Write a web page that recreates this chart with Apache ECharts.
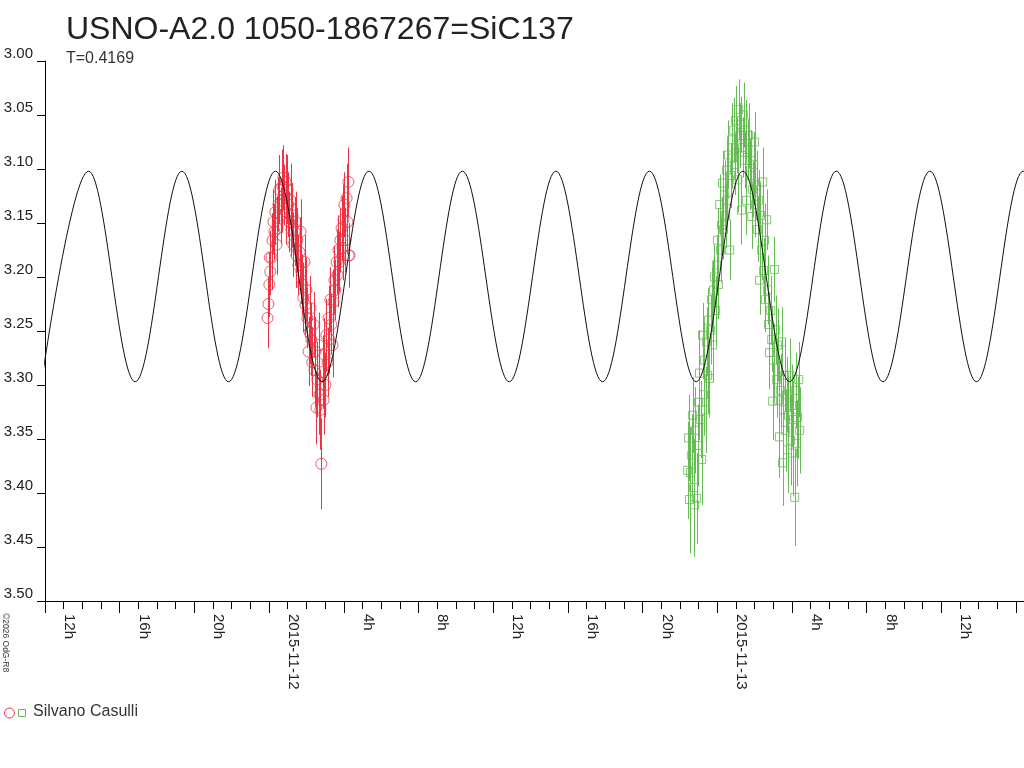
<!DOCTYPE html>
<html lang="en">
<head>
    <meta charset="UTF-8">
    <title>USNO-A2.0 1050-1867267=SiC137</title>
    <script src="https://cdn.jsdelivr.net/npm/echarts@6/dist/echarts.min.js"></script>
    <style>
        html, body { margin: 0; padding: 0; background: #fff; }
        #chart { width: 1024px; height: 768px; }
    </style>
</head>
<body>
    <div id="chart"></div>
    <script>
        // x values are hours since 2015-11-11 00:00
        const xMin = 11;
        const xMax = 63.43;
        const yTicks = [3.00, 3.05, 3.10, 3.15, 3.20, 3.25, 3.30, 3.35, 3.40, 3.45, 3.50];
        const dateLabels = { 24: '2015-11-12', 48: '2015-11-13' };

        // model curve (T=0.4169): extrema
        const curveHours = [10.82, 13.33, 15.83, 18.33, 20.83, 23.34, 25.84, 28.35, 30.85, 33.35, 35.86, 38.36,
            40.86, 43.37, 45.87, 48.37, 50.88, 53.38, 55.88, 58.39, 60.89, 63.39, 65.90];
        const curveMags = [3.297, 3.102, 3.297, 3.102, 3.297, 3.102, 3.297, 3.102, 3.297, 3.102, 3.297, 3.102,
            3.297, 3.102, 3.297, 3.102, 3.297, 3.102, 3.297, 3.102, 3.297, 3.102, 3.297];

        // night 1 (red circles): minutes from 2015-11-12 00:00
        const redMinutes = [-65, -62, -59, -58, -56, -52, -49, -46, -43, -40,
            -36, -33, -30, -27, -23, -20, -17, -14, -11, -7,
            -4, -1, 2, 5, 9, 12, 15, 18, 22, 25,
            28, 31, 34, 38, 41, 44, 47, 50, 54, 57,
            60, 63, 67, 70, 73, 76, 79, 83, 86, 89,
            92, 95, 99, 102, 105, 108, 112, 115, 118, 121,
            124, 128, 131, 134, 137, 140, 144, 147, 150, 153,
            157, 160, 163, 166, 169, 173, 176, 179, 182, 185,
            189, 192, 195, 196, 198];
        const redMags = [3.238, 3.225, 3.207, 3.182, 3.195, 3.182, 3.166, 3.149, 3.158, 3.140,
            3.170, 3.155, 3.133, 3.119, 3.143, 3.129, 3.116, 3.108, 3.124, 3.112,
            3.140, 3.119, 3.133, 3.149, 3.129, 3.156, 3.143, 3.170, 3.158, 3.149,
            3.180, 3.166, 3.189, 3.177, 3.158, 3.195, 3.207, 3.219, 3.186, 3.226,
            3.212, 3.238, 3.269, 3.251, 3.229, 3.258, 3.279, 3.244, 3.286, 3.269,
            3.321, 3.295, 3.263, 3.309, 3.323, 3.373, 3.288, 3.314, 3.272, 3.300,
            3.254, 3.279, 3.238, 3.258, 3.221, 3.244, 3.263, 3.223, 3.203, 3.212,
            3.186, 3.198, 3.175, 3.186, 3.166, 3.155, 3.173, 3.147, 3.133, 3.166,
            3.127, 3.149, 3.112, 3.180, 3.180];
        const redErrs = [0.028, 0.025, 0.030, 0.025, 0.022, 0.030, 0.025, 0.030, 0.026, 0.030,
            0.028, 0.030, 0.025, 0.032, 0.026, 0.030, 0.034, 0.030, 0.028, 0.026,
            0.030, 0.032, 0.030, 0.028, 0.034, 0.025, 0.030, 0.030, 0.032, 0.028,
            0.030, 0.030, 0.028, 0.032, 0.030, 0.030, 0.028, 0.032, 0.025, 0.030,
            0.030, 0.028, 0.032, 0.030, 0.030, 0.034, 0.032, 0.030, 0.034, 0.032,
            0.034, 0.035, 0.030, 0.037, 0.037, 0.042, 0.034, 0.032, 0.034, 0.030,
            0.034, 0.032, 0.030, 0.032, 0.030, 0.028, 0.030, 0.030, 0.032, 0.028,
            0.030, 0.030, 0.032, 0.028, 0.030, 0.030, 0.030, 0.032, 0.030, 0.030,
            0.032, 0.030, 0.032, 0.030, 0.028];

        // night 2 (green squares): minutes from 2015-11-13 00:00
        const greenMinutes = [-155, -152, -149, -146, -142, -139, -136, -133, -130, -126,
            -123, -120, -117, -113, -110, -107, -104, -101, -97, -94,
            -91, -88, -85, -81, -78, -75, -72, -69, -65, -62,
            -59, -56, -52, -49, -46, -43, -40, -36, -33, -30,
            -27, -24, -20, -17, -14, -11, -7, -4, -1, 2,
            6, 9, 12, 15, 18, 22, 25, 28, 31, 34,
            38, 41, 44, 47, 51, 54, 57, 60, 63, 67,
            70, 73, 76, 79, 83, 86, 89, 92, 95, 99,
            102, 105, 108, 112, 115, 118, 121, 124, 128, 131,
            134, 137, 140, 144, 147, 150, 153, 157, 160, 163,
            166, 169, 173, 176, 179, 182, 185, 189, 192, 195,
            198, 202, 205];
        const greenMags = [3.379, 3.349, 3.406, 3.381, 3.365, 3.328, 3.395, 3.411, 3.342, 3.405,
            3.356, 3.316, 3.289, 3.332, 3.369, 3.254, 3.309, 3.277, 3.323, 3.260,
            3.291, 3.240, 3.294, 3.249, 3.221, 3.263, 3.212, 3.200, 3.231, 3.189,
            3.166, 3.207, 3.133, 3.175, 3.152, 3.113, 3.156, 3.124, 3.143, 3.101,
            3.129, 3.087, 3.175, 3.106, 3.073, 3.090, 3.064, 3.096, 3.055, 3.078,
            3.110, 3.045, 3.069, 3.059, 3.138, 3.080, 3.050, 3.092, 3.064, 3.129,
            3.082, 3.069, 3.106, 3.092, 3.144, 3.119, 3.096, 3.075, 3.133, 3.115,
            3.156, 3.129, 3.203, 3.143, 3.175, 3.112, 3.194, 3.166, 3.221, 3.147,
            3.212, 3.244, 3.270, 3.231, 3.258, 3.315, 3.277, 3.193, 3.249, 3.295,
            3.263, 3.314, 3.348, 3.305, 3.260, 3.372, 3.323, 3.291, 3.342, 3.309,
            3.360, 3.328, 3.291, 3.351, 3.319, 3.363, 3.332, 3.404, 3.305, 3.354,
            3.330, 3.295, 3.342];
        const greenErrs = [0.045, 0.040, 0.050, 0.042, 0.038, 0.035, 0.045, 0.048, 0.040, 0.042,
            0.038, 0.035, 0.040, 0.036, 0.042, 0.030, 0.038, 0.035, 0.040, 0.032,
            0.035, 0.030, 0.036, 0.032, 0.030, 0.034, 0.028, 0.030, 0.032, 0.028,
            0.030, 0.032, 0.028, 0.030, 0.026, 0.030, 0.028, 0.032, 0.030, 0.028,
            0.030, 0.032, 0.028, 0.030, 0.034, 0.028, 0.030, 0.028, 0.032, 0.026,
            0.030, 0.028, 0.030, 0.026, 0.032, 0.028, 0.030, 0.026, 0.028, 0.032,
            0.028, 0.030, 0.032, 0.028, 0.030, 0.026, 0.030, 0.028, 0.030, 0.032,
            0.030, 0.028, 0.032, 0.030, 0.028, 0.032, 0.030, 0.034, 0.030, 0.028,
            0.032, 0.030, 0.034, 0.032, 0.030, 0.036, 0.034, 0.030, 0.032, 0.035,
            0.034, 0.036, 0.038, 0.034, 0.032, 0.040, 0.036, 0.034, 0.038, 0.035,
            0.040, 0.036, 0.034, 0.042, 0.038, 0.040, 0.036, 0.045, 0.035, 0.040,
            0.038, 0.035, 0.040];

        const RED = '#ee3344';
        const GREEN = '#66bb55';
        const FONT = '"Liberation Sans", Arial, sans-serif';

        function points(minutes, base, mags) {
            return minutes.map((m, i) => [base + m / 60, mags[i]]);
        }
        function bars(minutes, base, mags, errs) {
            return minutes.map((m, i) => [base + m / 60, mags[i] - errs[i], mags[i] + errs[i]]);
        }
        function errorBarItem(color) {
            return function (params, api) {
                const p1 = api.coord([api.value(0), api.value(1)]);
                const p2 = api.coord([api.value(0), api.value(2)]);
                const x = Math.round(p1[0]) + 0.5;
                return {
                    type: 'line',
                    shape: { x1: x, y1: p1[1], x2: x, y2: p2[1] },
                    style: { stroke: color, lineWidth: 1 }
                };
            };
        }
        function hourLabel(v) {
            const h = Math.round(v);
            if (dateLabels[h]) return dateLabels[h];
            if (h % 4 !== 0) return '';
            return (h % 24) + 'h';
        }

        let myChart = echarts.init(document.getElementById('chart'));

        let option = {
            animation: false,
            backgroundColor: '#fff',
            title: {
                text: 'USNO-A2.0 1050-1867267=SiC137',
                subtext: 'T=0.4169',
                left: 61,
                top: 9,
                itemGap: 5,
                textStyle: { fontFamily: FONT, fontSize: 32, fontWeight: 'normal', color: '#222' },
                subtextStyle: { fontFamily: FONT, fontSize: 16, color: '#333' }
            },
            grid: { left: 45, top: 61, right: 0, bottom: 167 },
            xAxis: [{
                // hourly ticks + labels every 4 hours
                type: 'value',
                min: xMin,
                max: xMax,
                interval: 1,
                axisLine: { lineStyle: { color: '#000', width: 1 } },
                axisTick: { length: 8, lineStyle: { color: '#000' } },
                axisLabel: {
                    rotate: -90,
                    margin: 13,
                    verticalAlign: 'bottom',
                    lineHeight: 11,
                    fontFamily: FONT,
                    fontSize: 15,
                    color: '#222',
                    interval: 0,
                    showMinLabel: false,
                    showMaxLabel: false,
                    formatter: hourLabel
                },
                splitLine: { show: false }
            }, {
                // longer ticks at the labelled hours
                type: 'value',
                position: 'bottom',
                min: xMin,
                max: xMax,
                interval: 4,
                axisLine: { show: false },
                axisTick: { length: 12, lineStyle: { color: '#000' } },
                axisLabel: { show: false },
                splitLine: { show: false }
            }],
            yAxis: {
                type: 'value',
                inverse: true,
                min: yTicks[0],
                max: yTicks[yTicks.length - 1],
                interval: 0.05,
                axisLine: { show: true, lineStyle: { color: '#000', width: 1 } },
                axisTick: { show: true, length: 8, lineStyle: { color: '#000' } },
                axisLabel: {
                    margin: 12,
                    verticalAlign: 'bottom',
                    fontFamily: FONT,
                    fontSize: 15,
                    color: '#222',
                    formatter: v => v.toFixed(2)
                },
                splitLine: { show: false }
            },
            series: [{
                type: 'custom',
                renderItem: errorBarItem(RED),
                data: bars(redMinutes, 24, redMags, redErrs),
                encode: { x: 0, y: [1, 2] },
                silent: true
            }, {
                type: 'scatter',
                symbol: 'circle',
                symbolSize: 11,
                itemStyle: { color: 'transparent', borderColor: RED, borderWidth: 1 },
                data: points(redMinutes, 24, redMags),
                silent: true
            }, {
                type: 'custom',
                renderItem: errorBarItem(GREEN),
                data: bars(greenMinutes, 48, greenMags, greenErrs),
                encode: { x: 0, y: [1, 2] },
                silent: true
            }, {
                type: 'scatter',
                symbol: 'rect',
                symbolSize: 8,
                itemStyle: { color: 'transparent', borderColor: GREEN, borderWidth: 1 },
                data: points(greenMinutes, 48, greenMags),
                silent: true
            }, {
                type: 'line',
                data: curveHours.map((h, i) => [h, curveMags[i]]),
                smooth: 0.36,
                showSymbol: false,
                lineStyle: { color: '#111', width: 1 },
                silent: true
            }],
            graphic: [{
                type: 'circle',
                shape: { cx: 9.5, cy: 713, r: 5 },
                style: { fill: 'none', stroke: RED, lineWidth: 1 }
            }, {
                type: 'rect',
                shape: { x: 18.5, y: 709.5, width: 7, height: 7 },
                style: { fill: 'none', stroke: GREEN, lineWidth: 1 }
            }, {
                type: 'text',
                left: 33,
                top: 704,
                style: { text: 'Silvano Casulli', font: '16px ' + FONT, fill: '#333' }
            }, {
                type: 'text',
                x: 1,
                y: 613,
                rotation: -Math.PI / 2,
                style: {
                    text: '©2026 OdG-R8', font: '8.5px ' + FONT, fill: '#333',
                    verticalAlign: 'bottom', align: 'left'
                }
            }]
        };

        myChart.setOption(option);
    </script>
</body>
</html>
